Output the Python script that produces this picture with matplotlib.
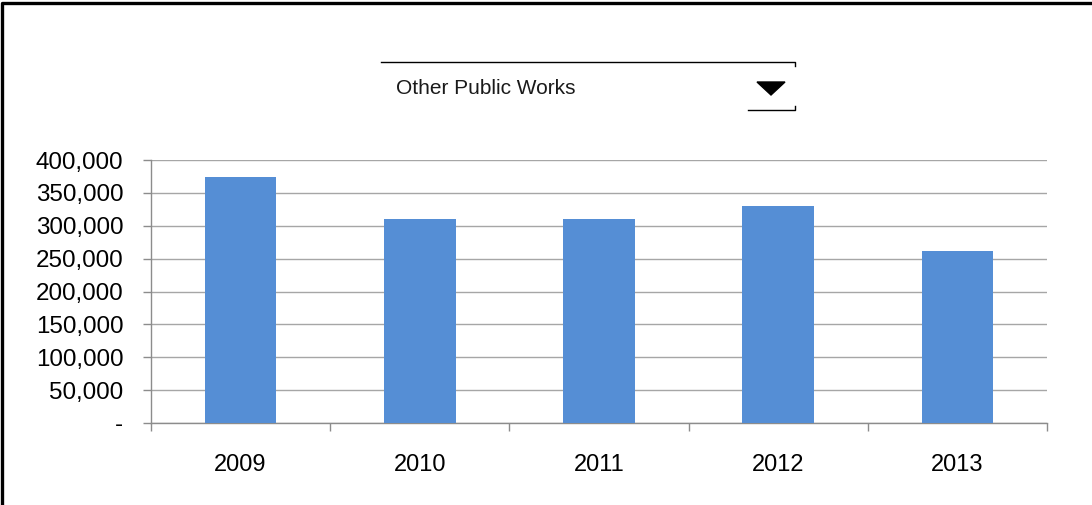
import numpy as np
import matplotlib
matplotlib.use('Agg')
import matplotlib.pyplot as plt
from matplotlib.lines import Line2D
from matplotlib.patches import Polygon
from matplotlib.ticker import FuncFormatter, FixedLocator

# Data
years = ['2009', '2010', '2011', '2012', '2013']
values = [374000, 310000, 310000, 330000, 261500]
yticks = [0, 50000, 100000, 150000, 200000, 250000, 300000, 350000, 400000]
selected = 'Other Public Works'

W, H = 1092, 505
plt.rcParams['font.family'] = ['Liberation Sans', 'DejaVu Sans']

fig = plt.figure(figsize=(W / 100, H / 100), dpi=100)
fig.patch.set_facecolor('white')


def px(x, y):
    # pixel position -> figure fraction
    return x / W, 1 - y / H


# Plot area
x0, y0 = px(151, 423)
x1, y1 = px(1047, 160)
ax = fig.add_axes([x0, y0, x1 - x0, y1 - y0])

pos = np.arange(len(years))
ax.bar(pos, values, width=0.4, color='#558ED5', zorder=3)

ax.set_xlim(-0.5, len(years) - 0.5)
ax.set_ylim(0, 400000)
ax.set_yticks(yticks)
ax.yaxis.set_major_formatter(FuncFormatter(lambda v, p: '-' if v == 0 else '{:,.0f}'.format(v)))
ax.grid(axis='y', color='#a6a6a6', linewidth=1.0, zorder=0)

# category boundaries get tick marks, centres get labels
ax.xaxis.set_major_locator(FixedLocator(np.arange(-0.5, len(years), 1.0)))
ax.xaxis.set_minor_locator(FixedLocator(pos))
ax.set_xticklabels([], minor=False)
ax.set_xticklabels(years, minor=True)
ax.tick_params(axis='x', which='major', length=6, width=1.0, color='#8c8c8c', direction='out')
ax.tick_params(axis='x', which='minor', length=0, pad=22, labelsize=17)
ax.tick_params(axis='y', length=6, width=1.0, color='#8c8c8c', pad=14, labelsize=17.4)

for s in ['top', 'right']:
    ax.spines[s].set_visible(False)
for s in ['left', 'bottom']:
    ax.spines[s].set_color('#8c8c8c')
    ax.spines[s].set_linewidth(1.0)

# Dropdown selector drawn above the chart
def fline(xs, ys, lw=1.0):
    pts = [px(x, y) for x, y in zip(xs, ys)]
    fig.add_artist(Line2D([p[0] for p in pts], [p[1] for p in pts],
                          color='black', linewidth=lw, transform=fig.transFigure))

fline([381, 795, 795], [62, 62, 66])
fline([748, 795, 795], [110, 110, 106])
tri = Polygon([px(757, 82), px(785, 82), px(771, 95)], closed=True,
              facecolor='black', edgecolor='black', transform=fig.transFigure)
fig.add_artist(tri)
tx, ty = px(396, 89)
fig.text(tx, ty, selected, fontsize=15, va='center', ha='left', color='#1a1a1a')

# Outer frame: only left and top edges show
fline([1.5, 1.5, W], [H, 2.5, 2.5], lw=2.4)

fig.savefig('out.png', dpi=100, facecolor='white')
